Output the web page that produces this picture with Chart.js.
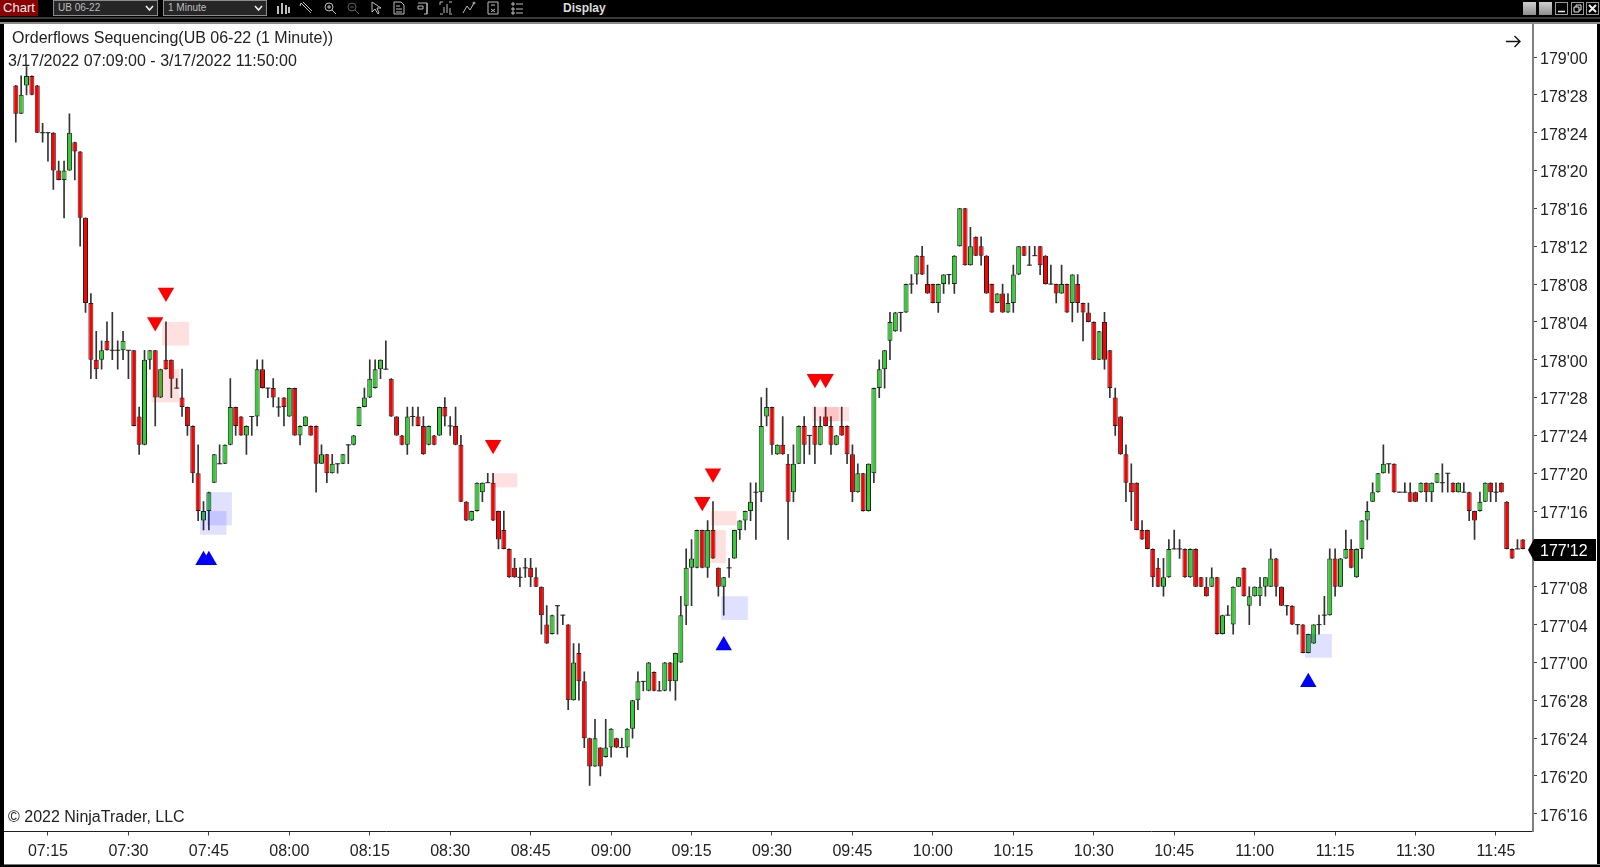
<!DOCTYPE html>
<html>
<head>
<meta charset="utf-8">
<title>Orderflows Sequencing</title>
<script src="https://cdn.jsdelivr.net/npm/chart.js@4"></script>
<style>
html, body { margin: 0; padding: 0; width: 1600px; height: 867px; background: #000; overflow: hidden; font-family: "Liberation Sans", Arial, sans-serif; }
#panel { position: absolute; left: 4px; top: 24px; width: 1593px; height: 840px; background: #fff; }
#panelTop { position: absolute; left: 0; top: 22px; width: 1600px; height: 2px; background: #8a8a8a; }
#panelBottom { position: absolute; left: 4px; top: 864px; width: 1596px; height: 1px; background: #777; }
#stripe { position: absolute; left: 0; top: 17px; width: 1600px; height: 2px; background: #3a3a3a; }
canvas { position: absolute; left: 4px; top: 24px; }
.txt { position: absolute; color: #222; font-size: 16px; line-height: 20px; white-space: nowrap; }
#btnChart { position: absolute; left: 0; top: 0; width: 38px; height: 16px; background: #8b0000; color: #eee; font-size: 13px; line-height: 16px; text-align: center; }
.sel { position: absolute; top: 0; height: 14px; border: 1px solid #8c8c8c; background: #262626; color: #bdbdbd; font-size: 10px; line-height: 14px; padding-left: 4px; box-sizing: content-box; }
.sel svg { position: absolute; right: 3px; top: 3px; }
#display { position: absolute; left: 563px; top: 0; color: #ddd; font-size: 12px; font-weight: bold; line-height: 16px; }
.ico { position: absolute; top: 1px; width: 14px; height: 14px; }
.ico * { fill: none; stroke: #bdbdbd; stroke-width: 1; }
.win { position: absolute; top: 2px; width: 13px; height: 13px; box-sizing: border-box; }
.win svg { position: absolute; left: 0; top: 0; }
</style>
</head>
<body>
<div id="stripe"></div>
<div id="panelTop"></div>
<div id="panel"></div>
<div id="panelBottom"></div>

<div id="btnChart">Chart</div>
<div class="sel" style="left:53px;width:99px">UB 06-22<svg width="9" height="8"><path d="M1 2 L4.5 6 L8 2" fill="none" stroke="#eee" stroke-width="1.6"/></svg></div>
<div class="sel" style="left:163px;width:98px">1 Minute<svg width="9" height="8"><path d="M1 2 L4.5 6 L8 2" fill="none" stroke="#eee" stroke-width="1.6"/></svg></div>
<svg class="ico" style="left:276px"><path d="M2 5V13M6 2V13M10 4V13M13 6V12" style="stroke-width:2"/></svg>
<svg class="ico" style="left:299px"><path d="M2 2L12 12M4 1L13 10M2 2L1 5"/></svg>
<svg class="ico" style="left:323px"><circle cx="6" cy="6" r="4"/><path d="M9 9L13 13M4 6H8M6 4V8"/></svg>
<svg class="ico" style="left:346px;opacity:.5"><circle cx="6" cy="6" r="4"/><path d="M9 9L13 13M4 6H8"/></svg>
<svg class="ico" style="left:369px"><path d="M3 1L3 11L6 8L9 13L10 12L8 7L12 7Z"/></svg>
<svg class="ico" style="left:392px"><path d="M2 1H9L12 4V13H2ZM4 5H8M4 8H10M4 11H10"/></svg>
<svg class="ico" style="left:416px"><path d="M2 2H11V13H8M2 5H7V8H2ZM11 2V13"/></svg>
<svg class="ico" style="left:439px"><path d="M1 1V4M1 1H4M13 1H10M1 13H4M13 13H10M5 12V6M8 12V3M11 12V7"/></svg>
<svg class="ico" style="left:462px"><path d="M1 12L5 5L8 9L12 2"/><circle cx="12" cy="2" r="1"/></svg>
<svg class="ico" style="left:486px"><path d="M2 1H12V13H2ZM5 4H9M5 8L9 11M9 8L5 11"/></svg>
<svg class="ico" style="left:510px"><path d="M2 2H4V4H2ZM2 7H4V9H2ZM2 11H4V13H2ZM6 3H13M6 8H13M6 12H13"/></svg>
<div id="display">Display</div>

<div class="win" style="left:1523px;background:linear-gradient(#d0d0d0,#8e8e8e)"></div>
<div class="win" style="left:1539px;background:linear-gradient(#d0d0d0,#8e8e8e)"></div>
<div class="win" style="left:1555px;border:1px solid #999"><svg width="11" height="11"><path d="M2 8.5H9" stroke="#eee" stroke-width="1.5"/></svg></div>
<div class="win" style="left:1571px;border:1px solid #999"><svg width="11" height="11"><path d="M2 4H7V9H2ZM4 4V2H9V7H7" stroke="#eee" fill="none"/></svg></div>
<div class="win" style="left:1586px;border:1px solid #999"><svg width="11" height="11"><path d="M2 2L9 9M9 2L2 9" stroke="#eee" stroke-width="2"/></svg></div>

<canvas id="myChart" width="1593" height="840"></canvas>

<div class="txt" style="left:12px;top:28px">Orderflows Sequencing(UB 06-22 (1 Minute))</div>
<div class="txt" style="left:8px;top:51px">3/17/2022 07:09:00 - 3/17/2022 11:50:00</div>
<div class="txt" style="left:8px;top:807px">© 2022 NinjaTrader, LLC</div>
<svg style="position:absolute;left:1505px;top:34px" width="17" height="15"><path d="M1 7.5H15M9.5 2L15 7.5L9.5 13" fill="none" stroke="#111" stroke-width="1.4"/></svg>

<script>
const TOP_PRICE = 179 * 32;
const FIRST_MINUTE = 9; // 07:09, minutes after 07:00

const opens = [
  3,6,3,2,3,8,8,8,12,13, 12,9,10,17,26,32,32,30,31,31,
  31,31,31,38,41,32,31,36,32,32, 35,36,37,39,44,49,48,45,43,43,
  41,37,38,40,38,38,33,35,35,37, 36,38,35,40,39,39,39,43,42,44,
  43,43,41,41,39,37,36,35,33,33, 34,38,40,41,38,38,39,41,40,40,
  37,39,39,41,47,49,48,46,45,45, 48,50,52,54,55,54,54,55,56,60,
  61,58,59,60,68,63,66,72,75,73, 74,73,72,73,73,71,68,66,67,65,
  67,67,64,66,64,58,54,54,50,54, 50,54,56,54,53,50,49,48,46,46,
  38,37,42,41,43,46,43,39,40,39, 41,38,39,41,39,39,42,46,44,48,
  44,35,33,30,29,27,27,24,23,21, 24,24,26,24,23,24,20,16,22,19,
  20,21,24,26,25,27,26,23,20,22, 21,20,21,24,24,25,24,26,24,26,
  27,28,32,28,31,36,38,42,45,45, 50,50,52,54,56,55,52,52,52,55,
  52,55,56,56,55,61,59,60,56,54, 58,57,57,56,56,53,56,58,58,60,
  60,63,62,60,59,59,53,56,53,52, 55,52,49,47,46,44,43,43,46,46,
  46,46,46,45,46,45,45,44,45,46, 46,46,48,48,47,45,46,45,47,52,52,51
];
const closes = [
  6,4,2,4,8,8,8,12,13,12, 8,10,17,26,32,33,31,31,31,31,
  30,31,39,41,32,31,36,33,33,34, 35,37,39,44,48,48,46,42,43,41,
  37,39,40,39,38,33,35,35,36,37, 37,35,40,39,38,40,43,42,44,43,
  43,42,41,40,37,36,34,33,32,33, 38,40,41,38,38,39,42,39,41,37,
  38,39,41,47,49,48,45,45,45,49, 51,52,55,55,55,54,55,56,59,62,
  59,58,59,68,64,66,72,75,72,75, 73,71,73,73,71,68,66,66,64,67,
  67,64,66,63,59,54,53,50,54,50, 53,56,55,54,50,49,48,47,46,39,
  37,41,41,42,47,43,39,41,40,41, 39,39,41,40,40,42,46,44,48,43,
  35,33,31,28,27,27,24,24,21,23, 25,26,24,23,23,21,16,22,20,21,
  21,25,27,25,27,26,23,20,21,22, 21,22,24,24,25,24,27,23,26,27,
  28,32,29,32,35,39,42,45,46,50, 51,52,55,56,55,52,52,52,55,52,
  56,56,57,55,61,59,59,56,55,57, 57,56,56,55,53,56,58,58,60,60,
  63,61,60,60,59,53,56,53,52,54, 52,49,48,46,44,43,43,46,46,46,
  47,47,45,46,45,44,45,44,46,45, 46,48,49,47,45,46,46,46,52,53,52,52
];
const highs = [
  3,2,1,2,3,7,8,8,11,11, 6,9,10,17,25,29,30,28,27,30,
  29,31,31,37,31,31,31,33,28,32, 34,33,37,39,41,47,46,42,41,41,
  34,37,38,39,38,32,32,35,34,36, 36,35,35,39,38,39,39,41,42,42,
  43,42,41,40,37,35,32,32,32,30, 34,38,40,37,37,37,38,39,40,37,
  36,38,37,40,47,48,45,45,44,44, 48,48,52,53,54,53,53,54,56,58,
  59,58,59,60,62,62,65,72,70,73, 70,71,72,72,71,68,65,66,64,65,
  66,64,64,63,57,52,51,50,50,49, 47,54,55,53,50,49,48,45,45,36,
  35,37,41,38,42,41,39,38,40,37, 38,37,38,40,37,39,41,43,44,43,
  35,32,31,27,27,27,24,23,21,20, 22,24,24,23,23,21,16,16,18,19,
  19,21,24,25,24,25,22,20,20,20, 20,20,21,22,24,22,24,23,23,26,
  26,28,29,27,31,35,38,41,43,45, 49,50,52,53,53,51,50,51,52,52,
  52,55,55,54,55,59,58,56,55,54, 56,56,55,55,52,53,56,58,58,60,
  60,61,60,59,57,52,52,53,50,51, 52,49,47,45,44,41,43,43,46,45,
  45,46,45,45,45,44,43,44,45,45, 45,46,48,46,45,45,45,45,47,52,51,51
];
const lows = [
  9,6,4,4,8,9,11,14,13,17, 12,13,20,27,34,34,33,31,32,33,
  32,34,39,42,41,33,39,36,33,36, 35,38,40,45,49,50,50,45,43,43,
  41,40,40,42,40,39,35,36,37,38, 39,38,40,41,39,40,46,43,45,44,
  44,43,43,41,39,37,36,35,34,33, 38,40,41,42,39,39,42,41,41,40,
  39,40,41,47,49,49,48,47,45,49, 52,52,55,55,56,55,56,56,61,62,
  61,61,60,69,68,68,73,77,75,76, 74,74,73,73,74,72,69,67,67,67,
  67,67,67,68,64,60,58,54,54,55, 53,57,59,55,53,51,50,49,51,47,
  39,42,42,42,51,47,43,43,42,43, 41,39,42,41,40,43,47,46,48,48,
  45,36,35,32,29,29,27,25,24,23, 25,26,27,25,24,25,20,22,22,21,
  22,25,27,26,27,27,27,23,21,22, 21,23,24,24,26,25,27,28,27,30,
  28,32,32,33,36,40,42,47,49,50, 51,52,56,56,57,55,52,53,55,55,
  56,56,57,56,61,61,59,61,56,57, 60,57,58,57,56,57,58,59,60,61,
  63,63,62,61,60,59,57,56,53,54, 55,53,51,47,46,44,44,46,46,46,
  47,47,46,47,47,45,46,46,46,46, 46,49,51,48,47,47,47,46,52,53,52,52
];

// sequencing signals (bar number, level in 32nds below 179'00)
const sellBars = [26, 28, 89, 128, 130, 149, 151];
const sellLevels = [28, 24.9, 41, 47, 44, 34, 34];
const buyBars = [35, 36, 132, 241];
const buyLevels = [53.2, 53.2, 62.2, 66.1];

// shaded zones (first bar, last bar, top, bottom)
const sellZoneFrom = [27.3, 25.3, 88.7, 129.6, 129.5, 148.5, 150.6];
const sellZoneTo = [32.3, 30.5, 93.5, 134.4, 132.4, 153.4, 155.4];
const sellZoneTop = [28, 33, 44, 48, 50, 37, 37];
const sellZoneBottom = [30.5, 36.5, 45.5, 49.5, 53.5, 38.5, 38.5];
const buyZoneFrom = [35.65, 34.35, 131.5, 240.4];
const buyZoneTo = [40.3, 39.3, 136.5, 245.4];
const buyZoneTop = [46, 48, 57, 61];
const buyZoneBottom = [49.5, 50.5, 59.5, 63.5];

const yTickLabels = ["179'00", "178'28", "178'24", "178'20", "178'16", "178'12", "178'08", "178'04", "178'00",
  "177'28", "177'24", "177'20", "177'16", "177'08", "177'04", "177'00", "176'28", "176'24", "176'20", "176'16"];
const xTickLabels = ["07:15", "07:30", "07:45", "08:00", "08:15", "08:30", "08:45", "09:00", "09:15", "09:30",
  "09:45", "10:00", "10:15", "10:30", "10:45", "11:00", "11:15", "11:30", "11:45"];
const lastPriceLabel = "177'12";

// --- HELPERS ---
const toPrice = t => TOP_PRICE - t;
const toMinute = bar => FIRST_MINUTE + bar;
const labelToPrice = s => { const p = s.split("'"); return +p[0] * 32 + +p[1]; };
const labelToMinute = s => { const p = s.split(":"); return (+p[0] - 7) * 60 + +p[1]; };
// Chart.js reserves half a label of margin around an axis, the original has none
const noMargins = ax => { ax.paddingTop = ax.paddingBottom = ax.paddingLeft = ax.paddingRight = 0; };

const UP = '#32cd32', DOWN = '#ff0000', INK = '#222';

const bodyData = [], bodyColors = [], dojiData = [];
opens.forEach((o, i) => {
  if (o === closes[i]) {
    dojiData.push({ x: toMinute(i), y: toPrice(o) });
  } else {
    bodyData.push({ x: toMinute(i), y: [toPrice(o), toPrice(closes[i])] });
    bodyColors.push(closes[i] > o ? DOWN : UP);
  }
});

// --- PLUGINS : zones over the candles, and the last price flag ---
const zonesPlugin = {
  id: 'zones',
  afterDatasetsDraw(chart) {
    const { ctx, scales: { x, y } } = chart;
    const draw = (from, to, top, bottom, color) => {
      ctx.fillStyle = color;
      from.forEach((f, i) => {
        const x0 = x.getPixelForValue(toMinute(f)), x1 = x.getPixelForValue(toMinute(to[i]));
        const y0 = y.getPixelForValue(toPrice(top[i])), y1 = y.getPixelForValue(toPrice(bottom[i]));
        ctx.fillRect(x0, y0, x1 - x0, y1 - y0);
      });
    };
    draw(sellZoneFrom, sellZoneTo, sellZoneTop, sellZoneBottom, 'rgba(255,0,0,0.12)');
    draw(buyZoneFrom, buyZoneTo, buyZoneTop, buyZoneBottom, 'rgba(0,0,255,0.12)');
  }
};

const flagPlugin = {
  id: 'flag',
  afterDraw(chart) {
    const { ctx, chartArea, scales: { y } } = chart;
    const py = y.getPixelForValue(labelToPrice(lastPriceLabel));
    const l = chartArea.right;
    ctx.save();
    ctx.fillStyle = '#000';
    ctx.beginPath();
    ctx.moveTo(l - 5, py + 1);
    ctx.lineTo(l + 1, py - 10);
    ctx.lineTo(l + 63, py - 10);
    ctx.lineTo(l + 63, py + 12);
    ctx.lineTo(l + 1, py + 12);
    ctx.closePath();
    ctx.fill();
    ctx.fillStyle = '#fff';
    ctx.font = '16px "Liberation Sans"';
    ctx.textBaseline = 'middle';
    ctx.fillText(lastPriceLabel, l + 7, py + 3);
    ctx.restore();
  }
};

// --- CHART ---
new Chart(document.getElementById('myChart').getContext('2d'), {
  type: 'bar',
  data: {
    datasets: [
      {
        label: 'wicks', order: 4, grouped: false, barPercentage: 1, categoryPercentage: 1, maxBarThickness: 1,
        data: highs.map((h, i) => ({ x: toMinute(i), y: [toPrice(lows[i]), toPrice(h)] })),
        backgroundColor: '#333'
      },
      {
        label: 'bodies', order: 3, grouped: false, barPercentage: 1, categoryPercentage: 1, maxBarThickness: 5,
        data: bodyData, backgroundColor: bodyColors,
        borderColor: INK, borderWidth: 1, borderSkipped: false, inflateAmount: 0
      },
      {
        type: 'scatter', label: 'doji', order: 2, data: dojiData,
        pointStyle: 'line', pointRadius: 2.5, pointBorderWidth: 1, pointBorderColor: INK
      },
      {
        type: 'scatter', label: 'sell', order: 1,
        data: sellBars.map((b, i) => ({ x: toMinute(b), y: toPrice(sellLevels[i]) })),
        pointStyle: 'triangle', rotation: 180, pointRadius: 9.5, pointBorderWidth: 0, pointBackgroundColor: '#ff0000'
      },
      {
        type: 'scatter', label: 'buy', order: 1,
        data: buyBars.map((b, i) => ({ x: toMinute(b), y: toPrice(buyLevels[i]) })),
        pointStyle: 'triangle', pointRadius: 9.5, pointBorderWidth: 0, pointBackgroundColor: '#0000ff'
      }
    ]
  },
  options: {
    responsive: false,
    animation: false,
    events: [],
    layout: { padding: 0, autoPadding: false },
    plugins: { legend: { display: false }, tooltip: { enabled: false } },
    scales: {
      x: {
        type: 'linear', min: 6.8, max: 291.9, offset: false,
        afterBuildTicks: ax => { ax.ticks = xTickLabels.map(s => ({ value: labelToMinute(s) })); },
        afterFit: ax => { ax.height = 32.5; noMargins(ax); },
        border: { color: '#222', width: 1 },
        grid: { offset: false, drawOnChartArea: false, tickLength: 4, tickColor: '#444' },
        ticks: { autoSkip: false, maxRotation: 0, padding: 6, color: '#222', font: { family: 'Liberation Sans', size: 16 },
          callback: (v, i) => xTickLabels[i] }
      },
      y: {
        position: 'right', min: 5646.13, max: 5731.49,
        afterBuildTicks: ax => { ax.ticks = yTickLabels.map(s => ({ value: labelToPrice(s) })); },
        afterFit: ax => { ax.width = 64; noMargins(ax); },
        border: { color: '#808080', width: 2 },
        grid: { drawOnChartArea: false, tickLength: 4, tickColor: '#444' },
        ticks: { autoSkip: false, padding: 3, labelOffset: 2.5, color: '#222', font: { family: 'Liberation Sans', size: 16 },
          callback: (v, i) => yTickLabels[i] }
      }
    }
  },
  plugins: [zonesPlugin, flagPlugin]
});
</script>
</body>
</html>
